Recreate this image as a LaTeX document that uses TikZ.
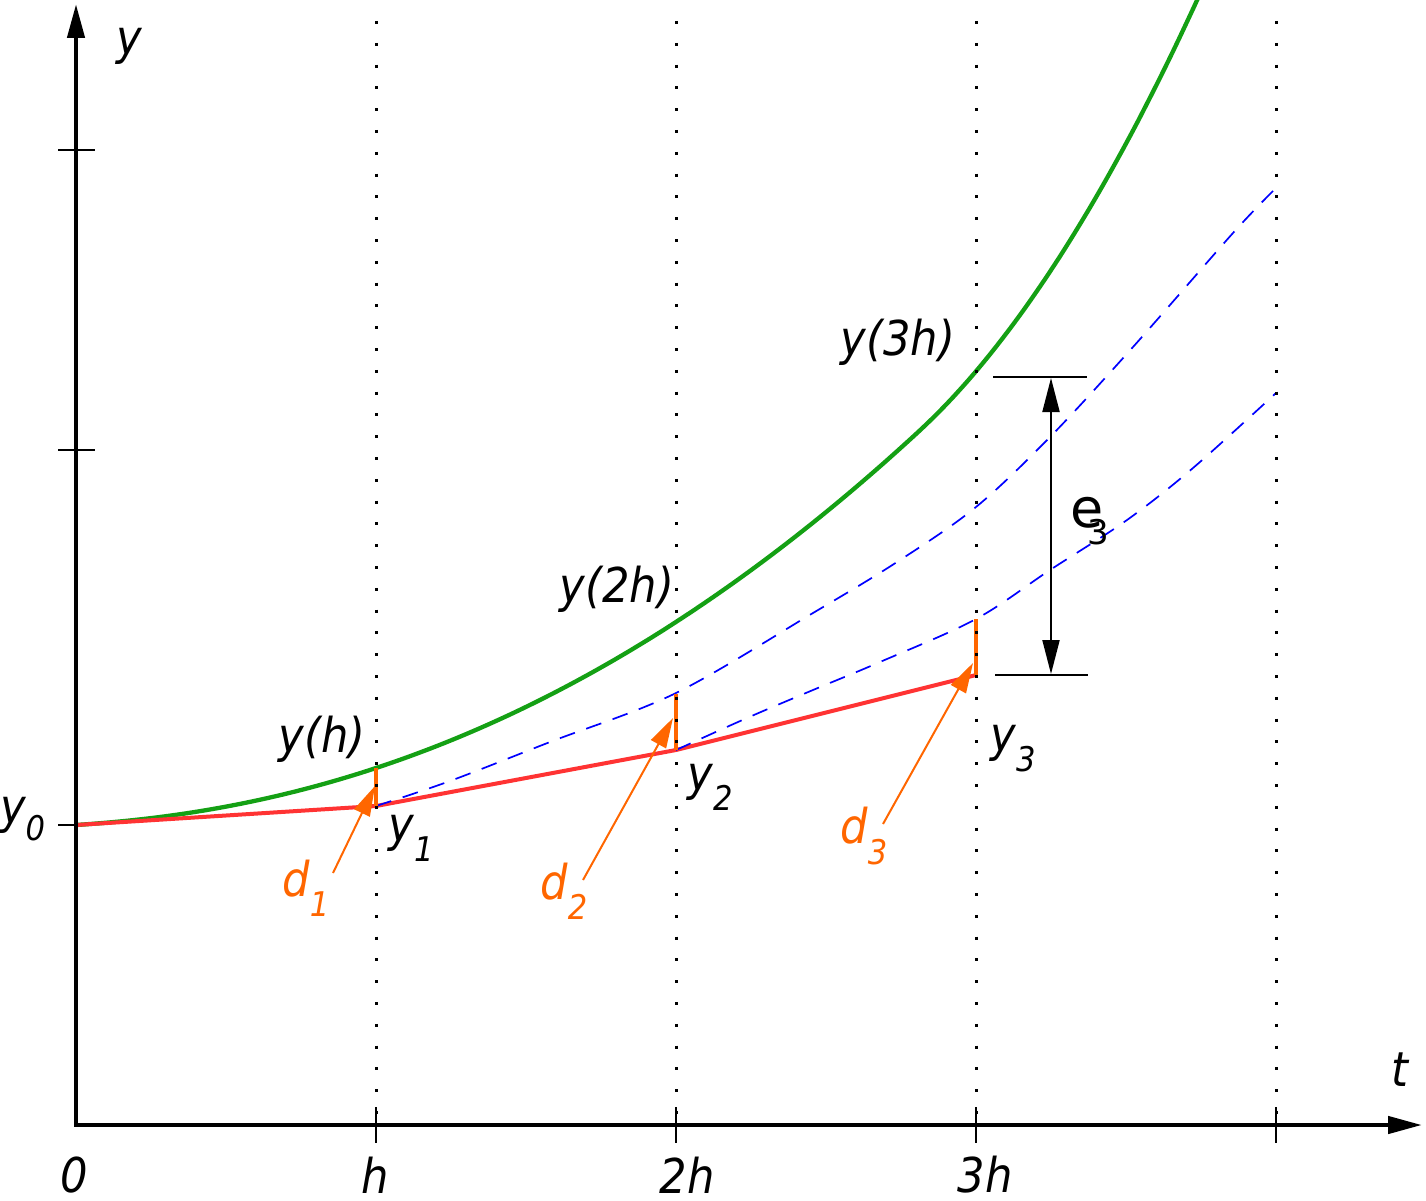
\documentclass[tikz,border=0pt]{standalone}
\usepackage{fontspec}
\IfFontExistsTF{DejaVu Sans Condensed}{\setmainfont{DejaVu Sans Condensed}}{\setmainfont{DejaVu Sans}[FakeStretch=0.9]}
\newfontfamily\efont{DejaVu Sans}
\usetikzlibrary{arrows.meta}
\definecolor{solgreen}{RGB}{20,160,20}
\definecolor{eulerred}{RGB}{255,51,51}
\definecolor{errorange}{RGB}{255,102,0}
\definecolor{exblue}{RGB}{0,0,255}
\newcommand\lowsub[2][0.42em]{\raisebox{-#1}{\fontsize{34}{34}\selectfont #2}}
\begin{document}
\begin{tikzpicture}[x=1pt,y=-1pt,
  lbl/.style={inner sep=0pt, font=\fontsize{48}{48}\selectfont\itshape},
  uplbl/.style={inner sep=0pt, font=\fontsize{54}{54}\selectfont\efont\upshape},
  axisline/.style={line width=4.5pt, {Triangle[length=34pt,width=17pt]}-{Triangle[length=34pt,width=17pt]}},
  dotline/.style={line width=3pt, dash pattern=on 3pt off 18.8pt},
  tickline/.style={line width=1.6pt},
  exact/.style={solgreen, line width=4.3pt, line cap=round, line join=round},
  euler/.style={eulerred, line width=4pt, line join=round},
  local/.style={exblue, line width=1.7pt, dash pattern=on 16pt off 12pt},
  lte/.style={errorange, line width=3.2pt},
  ltearrow/.style={errorange, line width=2pt, -{Triangle[length=30pt,width=17pt]}},
  errline/.style={line width=1.5pt},
  errarrow/.style={line width=2pt, {Triangle[length=34pt,width=17pt]}-{Triangle[length=34pt,width=17pt]}}
]
\useasboundingbox (0,0) rectangle (1426,1201);

% key points
\coordinate (O) at (76,1125);
\coordinate (ytop) at (76,4);
\coordinate (xend) at (1422,1125);
\coordinate (Y0) at (76,825);
\coordinate (Y1) at (376,806);
\coordinate (Y2) at (676,750);
\coordinate (Y3) at (976,675);
\coordinate (E1) at (376,768);
\coordinate (E2) at (676,694);
\coordinate (E3) at (976,619);

% exact solution
\draw[exact] (Y0) -- plot[domain=0.004:3.75, samples=160, variable=\u]
  ({76+300*\u},{825-20*\u-37*pow(\u,2.14)-150*max(\u-2.81,0)*max(\u-2.81,0)});

% Euler polygon
\draw[euler] (Y0) -- (Y1) -- (Y2) -- (Y3);

% local solutions
\draw[local] plot[smooth, tension=0.55] coordinates {(376,806) (450,781) (550,742) (676,693) (813,613) (897,562) (976,507) (1050,437) (1133,347) (1233,233) (1276,188)};
\draw[local] plot[smooth, tension=0.55] coordinates {(676,750) (747,718) (813,690) (880,662) (976,619) (1050,570) (1127,520) (1193,468) (1276,393)};

% local errors
\draw[lte] (Y1) -- (E1);
\draw[lte] (Y2) -- (E2);
\draw[lte] (Y3) -- (E3);

% dotted grid lines and ticks
\foreach \xx in {376,676,976,1276} {
  \draw[dotline] (\xx,21) -- (\xx,1125);
  \draw[tickline] (\xx,1107) -- (\xx,1143);
}
\draw[tickline] (58,150) -- (95,150);
\draw[tickline] (58,450) -- (95,450);
\draw[tickline] (58,825) -- (Y0);

% axes
\draw[axisline] (ytop) -- (O) -- (xend);

% global error e3
\coordinate (ea) at (993,377);
\coordinate (eb) at (1087,377);
\coordinate (ec) at (995,675);
\coordinate (ed) at (1088,675);
\draw[errline] (ea) -- (eb);
\draw[errline] (ec) -- (ed);
\coordinate (eup) at (1051,378);
\coordinate (edn) at (1051,674);
\draw[errarrow] (eup) -- (edn);

% labels
\node[lbl] (ylab) at (129,46) {y};
\node[lbl] (tlab) at (1400,1070) {t};
\node[lbl] (l0) at (74,1175) {0};
\node[lbl] (lh) at (375,1175) {h};
\node[lbl] (l2h) at (687,1175) {2h};
\node[lbl] (l3h) at (985,1175) {3h};
\node[lbl, anchor=west] (ly0) at (0,819) {y\lowsub[0.36em]{0}};
\node[lbl] (lyh) at (322,739) {y(h)};
\node[lbl] (ly2h) at (617,589) {y(2h)};
\node[lbl] (ly3h) at (898,342) {y(3h)};
\node[lbl] (ly1) at (411,838) {y\lowsub{1}};
\node[lbl] (ly2) at (710,787) {y\lowsub{2}};
\node[lbl] (ly3) at (1013,749) {y\lowsub{3}};
\node[lbl, errorange] (ld1) at (306,888) {d\lowsub{1}};
\node[lbl, errorange] (ld2) at (564,891) {d\lowsub{2}};
\node[lbl, errorange] (ld3) at (864,836) {d\lowsub{3}};
\node[uplbl] (le3) at (1090,521) {e\kern-0.3em\lowsub[0.32em]{3}};

% arrows from labels to local errors
\coordinate (t1) at (333,873);
\coordinate (h1) at (375,786);
\coordinate (t2) at (583,880);
\coordinate (h2) at (673,718);
\coordinate (t3) at (883,824);
\coordinate (h3) at (973,663);
\draw[ltearrow] (t1) -- (h1);
\draw[ltearrow] (t2) -- (h2);
\draw[ltearrow] (t3) -- (h3);
\end{tikzpicture}
\end{document}
